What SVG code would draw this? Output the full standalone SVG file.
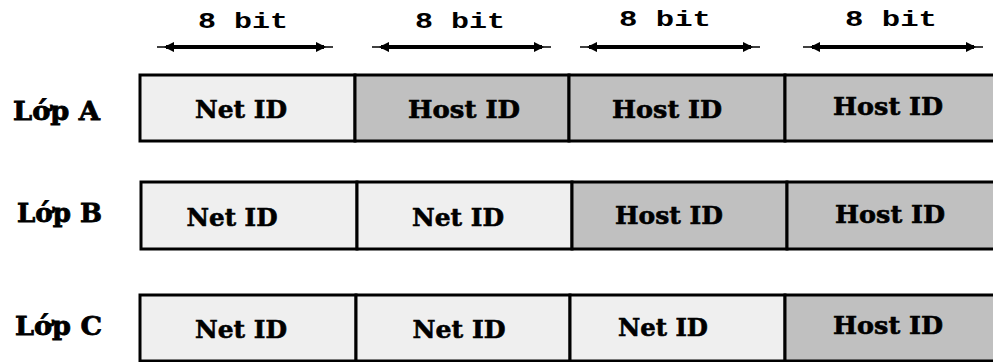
<svg xmlns="http://www.w3.org/2000/svg" width="993" height="362" viewBox="0 0 993 362">
  <style>
    .net { fill: #efefef; stroke: #000; stroke-width: 3; }
    .host { fill: #c0c0c0; stroke: #000; stroke-width: 3; }
    .cell-text { font-family: "DejaVu Serif", "Liberation Serif", serif; font-weight: 900; font-size: 25px; fill: #000; stroke: #000; stroke-width: 0.6; text-anchor: middle; }
    .row-label { font-family: "DejaVu Serif", "Liberation Serif", serif; font-weight: 900; font-size: 26px; fill: #000; stroke: #000; stroke-width: 0.8; }
    .bits { font-family: "Liberation Mono", "DejaVu Sans Mono", monospace; font-weight: bold; font-size: 22px; fill: #000; text-anchor: middle; }
    .arrow { stroke: #000; stroke-width: 4; fill: none; }
    .tail { stroke: #000; stroke-width: 1.5; fill: none; }
  </style>
  <defs>
    <marker id="head" viewBox="0 0 10 10" refX="8" refY="5" markerWidth="2.6" markerHeight="2.6" orient="auto-start-reverse" markerUnits="strokeWidth">
      <path d="M0,0 L10,5 L0,10 Z" fill="#000"/>
    </marker>
  </defs>
  <rect width="993" height="362" fill="#fff"/>

  <!-- octet width arrows -->
  <g id="connectors">
    <g id="bits-1">
      <line class="tail" x1="157" y1="47" x2="333" y2="47"/>
      <line class="arrow" x1="166" y1="47" x2="324" y2="47" marker-start="url(#head)" marker-end="url(#head)"/>
      <text class="bits" x="243" y="28" textLength="90" lengthAdjust="spacingAndGlyphs">8 bit</text>
    </g>
    <g id="bits-2">
      <line class="tail" x1="372" y1="47" x2="551" y2="47"/>
      <line class="arrow" x1="381" y1="47" x2="542" y2="47" marker-start="url(#head)" marker-end="url(#head)"/>
      <text class="bits" x="460" y="28" textLength="90" lengthAdjust="spacingAndGlyphs">8 bit</text>
    </g>
    <g id="bits-3">
      <line class="tail" x1="580" y1="47" x2="760" y2="47"/>
      <line class="arrow" x1="589" y1="47" x2="751" y2="47" marker-start="url(#head)" marker-end="url(#head)"/>
      <text class="bits" x="665" y="26" textLength="92" lengthAdjust="spacingAndGlyphs">8 bit</text>
    </g>
    <g id="bits-4">
      <line class="tail" x1="803" y1="47" x2="983" y2="47"/>
      <line class="arrow" x1="812" y1="47" x2="974" y2="47" marker-start="url(#head)" marker-end="url(#head)"/>
      <text class="bits" x="891" y="26" textLength="92" lengthAdjust="spacingAndGlyphs">8 bit</text>
    </g>
  </g>

  <!-- Class A: 1 network octet, 3 host octets -->
  <g id="class-a">
    <text class="row-label" x="13" y="120" textLength="87" lengthAdjust="spacingAndGlyphs">Lớp A</text>
    <rect class="net" x="140" y="75" width="215" height="66"/>
    <rect class="host" x="355" y="75" width="214" height="66"/>
    <rect class="host" x="569" y="75" width="216" height="66"/>
    <rect class="host" x="785" y="75" width="212" height="66"/>
    <text class="cell-text" x="241" y="118" textLength="92" lengthAdjust="spacingAndGlyphs">Net ID</text>
    <text class="cell-text" x="464" y="118" textLength="112" lengthAdjust="spacingAndGlyphs">Host ID</text>
    <text class="cell-text" x="667" y="118" textLength="110" lengthAdjust="spacingAndGlyphs">Host ID</text>
    <text class="cell-text" x="888" y="115" textLength="110" lengthAdjust="spacingAndGlyphs">Host ID</text>
  </g>

  <!-- Class B: 2 network octets, 2 host octets -->
  <g id="class-b">
    <text class="row-label" x="17" y="222" textLength="85" lengthAdjust="spacingAndGlyphs">Lớp B</text>
    <rect class="net" x="141" y="182" width="216" height="67"/>
    <rect class="net" x="357" y="182" width="215" height="67"/>
    <rect class="host" x="572" y="182" width="215" height="67"/>
    <rect class="host" x="787" y="182" width="210" height="67"/>
    <text class="cell-text" x="232" y="226" textLength="91" lengthAdjust="spacingAndGlyphs">Net ID</text>
    <text class="cell-text" x="458" y="226" textLength="92" lengthAdjust="spacingAndGlyphs">Net ID</text>
    <text class="cell-text" x="669" y="224" textLength="108" lengthAdjust="spacingAndGlyphs">Host ID</text>
    <text class="cell-text" x="890" y="223" textLength="110" lengthAdjust="spacingAndGlyphs">Host ID</text>
  </g>

  <!-- Class C: 3 network octets, 1 host octet -->
  <g id="class-c">
    <text class="row-label" x="15" y="335" textLength="87" lengthAdjust="spacingAndGlyphs">Lớp C</text>
    <rect class="net" x="140" y="295" width="216" height="66"/>
    <rect class="net" x="356" y="295" width="214" height="66"/>
    <rect class="net" x="570" y="295" width="215" height="66"/>
    <rect class="host" x="785" y="295" width="212" height="66"/>
    <text class="cell-text" x="241" y="338" textLength="92" lengthAdjust="spacingAndGlyphs">Net ID</text>
    <text class="cell-text" x="459" y="338" textLength="93" lengthAdjust="spacingAndGlyphs">Net ID</text>
    <text class="cell-text" x="663" y="336" textLength="90" lengthAdjust="spacingAndGlyphs">Net ID</text>
    <text class="cell-text" x="888" y="334" textLength="110" lengthAdjust="spacingAndGlyphs">Host ID</text>
  </g>
</svg>
